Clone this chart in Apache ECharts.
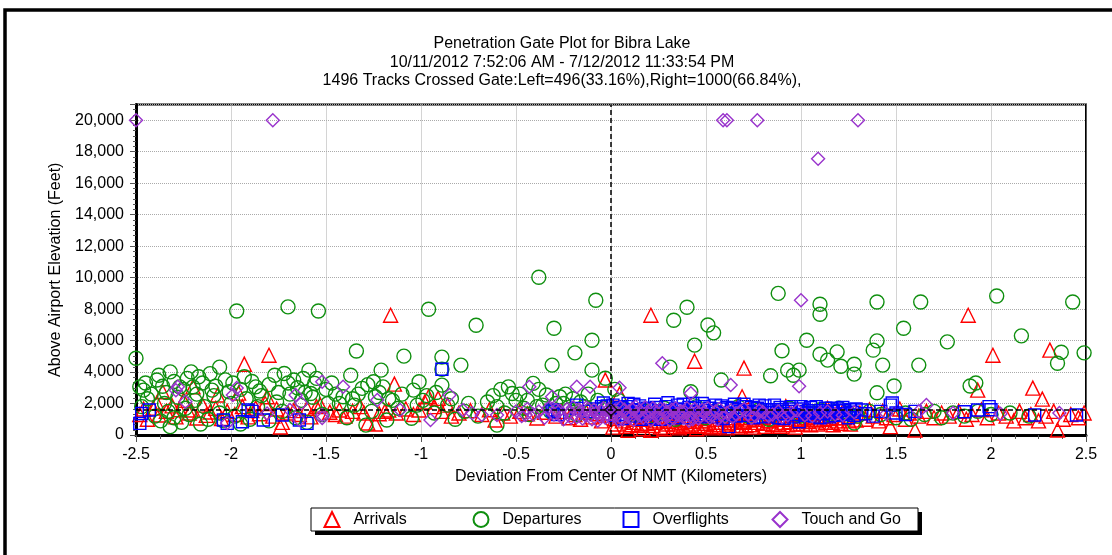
<!DOCTYPE html>
<html>
<head>
<meta charset="utf-8">
<script src="https://cdn.jsdelivr.net/npm/echarts@6/dist/echarts.min.js"></script>
<style>
html,body{margin:0;padding:0;background:#fff;}
#chart{width:1112px;height:555px;}
</style>
</head>
<body>
<div id="chart"></div>
<script>
const titleLines = [
  'Penetration Gate Plot for Bibra Lake',
  '10/11/2012 7:52:06 AM - 7/12/2012 11:33:54 PM',
  '1496 Tracks Crossed Gate:Left=496(33.16%),Right=1000(66.84%),'
];
const xAxisName = 'Deviation From Center Of NMT (Kilometers)';
const yAxisName = 'Above Airport Elevation (Feet)';
const seriesNames = ['Arrivals', 'Departures', 'Overflights', 'Touch and Go'];
const gateCenter = [0, 1600];

const arrivals = [
  [-1.16,7610],[-1.80,5070],[-1.93,4500],[-1.14,3230],[-0.03,3490],[0.21,7610],[0.44,4690],[0.70,4250],[0.69,2430],
  [1.88,7610],[2.01,5070],[2.31,5390],[2.22,2980],[2.27,2280],[1.93,2850],[2.35,320],[1.60,320],[1.47,530],
  [-2.48,1300],[-2.46,1650],[-2.44,1000],[-2.41,1710],[-2.39,2030],[-2.38,1270],[-2.36,2750],[-2.34,1500],[-2.31,1850],
  [-2.29,1150],[-2.27,1600],[-2.25,2200],[-2.22,1400],[-2.21,1590],[-2.20,3060],[-2.18,1080],[-2.15,1900],[-2.13,1250],
  [-2.11,1460],[-2.08,1700],[-2.07,2540],[-2.05,1050],[-2.02,1500],[-1.98,1300],[-1.96,2660],[-1.94,1800],[-1.91,1150],
  [-1.89,1550],[-1.87,1710],[-1.85,1350],[-1.82,2000],[-1.81,2430],[-1.78,1200],[-1.76,1650],[-1.74,510],[-1.73,800],
  [-1.70,1400],[-1.67,1550],[-1.64,1300],[-1.60,1700],[-1.58,1150],[-1.55,1800],[-1.53,1900],
  [-1.48,1450],[-1.45,1300],[-1.43,1590],[-1.40,1200],[-1.36,1500],[-1.32,1800],[-1.30,1400],[-1.28,760],[-1.24,700],
  [-1.22,1350],[-1.19,1500],[-1.17,1590],[-1.13,1400],[-1.08,1650],[-1.04,1300],[-1.01,1590],[-0.98,2100],[-0.96,2430],
  [-0.93,1800],[-0.91,2330],[-0.89,1500],[-0.86,1900],[-0.84,1200],[-0.80,1400],[-0.74,1550],[-0.68,1300],[-0.64,1600],
  [-0.61,950],[-0.57,1400],[-0.53,1200],[-0.48,1500],[-0.44,1350],[-0.39,1080],[-0.35,1450],
  [-0.29,1200],[-0.26,1500],[-0.22,1100],[-0.19,1300],[-0.16,1000],[-0.13,1450],[-0.10,1150],[-0.07,1350],[-0.05,900],
  [-0.02,1250],[0.045,2600],[0.02,1050],
  [0.03,700],[0.06,900],[0.08,550],[0.10,1100],[0.12,800],[0.14,600],[0.15,1000],[0.17,400],[0.19,750],[0.20,1200],
  [0.22,600],[0.24,900],[0.26,500],[0.27,1100],[0.29,700],[0.31,950],[0.33,550],[0.35,1250],[0.37,800],[0.38,600],
  [0.40,1000],[0.42,700],[0.44,1150],[0.46,600],[0.48,900],[0.50,750],[0.52,1200],[0.54,650],[0.56,1000],[0.58,800],
  [0.60,1300],[0.62,700],[0.64,950],[0.66,600],[0.68,1100],[0.70,800],[0.72,1400],[0.74,650],[0.76,1000],[0.78,1700],
  [0.80,750],[0.82,1200],[0.84,900],[0.86,1500],[0.88,700],[0.90,1100],[0.92,1800],[0.94,850],[0.96,1300],[0.98,700],
  [1.00,1000],[1.02,1600],[1.04,850],[1.06,1200],[1.08,900],[1.10,1400],[1.12,1000],[1.14,1700],[1.16,800],[1.18,1300],
  [1.20,1100],[1.22,1500],[1.25,900],[1.28,1200],
  [0.01,500],[0.05,1200],[0.09,300],[0.11,650],[0.13,1000],[0.16,700],[0.18,1000],[0.21,300],[0.23,800],[0.25,1050],
  [0.28,400],[0.30,850],[0.32,1100],[0.34,700],[0.36,450],[0.39,900],[0.41,550],[0.43,850],[0.45,400],[0.47,1050],
  [0.49,550],[0.51,900],[0.53,450],[0.55,800],[0.57,550],[0.59,1000],[0.61,450],[0.63,800],[0.65,1100],[0.67,500],
  [0.69,850],[0.71,600],[0.73,950],[0.75,500],[0.77,800],[0.79,1100],[0.81,550],[0.83,900],[0.85,650],[0.87,1000],
  [0.89,550],[0.91,800],[0.93,650],[0.95,1000],[0.97,500],[0.99,900],[1.01,700],[1.03,1100],[1.05,650],[1.07,1000],
  [1.09,700],[1.11,1150],[1.13,800],[1.15,1050],[1.17,650],[1.19,900],[1.21,750],[1.23,1100],[1.26,700],[1.29,950],
  [1.31,1400],[1.34,1000],[1.36,1600],[1.38,1200],[1.41,900],[1.43,1500],[1.45,1100],[1.49,1300],[1.52,1650],[1.55,1000],
  [1.57,1400],[1.62,1200],[1.66,1500],[1.70,1100],[1.74,1400],[1.78,1200],[1.83,1500],[1.87,1000],[1.90,1300],[1.95,1600],
  [1.98,1100],[2.04,1400],[2.08,1200],[2.12,900],[2.15,1500],[2.18,1100],[2.21,1300],[2.25,900],[2.29,1200],[2.33,1500],
  [2.38,1000],[2.42,1300],[2.46,1100],[2.49,1400]
];

const departures = [
  [-2.50,4880],[-1.97,7880],[-1.70,8140],[-1.54,7880],[-0.96,7990],[-0.71,6970],[-0.38,10020],[-0.08,8560],[-0.30,6780],
  [-0.10,6020],[-0.19,5220],[-0.31,4440],[-0.10,4120],[-1.34,5340],[-1.09,5010],[-0.79,4440],[-0.89,4950],[-0.89,4180],
  [-2.06,4310],
  [0.88,9000],[1.10,8310],[1.10,7670],[1.40,8450],[1.63,8450],[2.03,8830],[2.43,8450],[0.40,8120],[0.33,7290],[0.51,6990],
  [0.54,6490],[0.44,5710],[1.03,6020],[0.90,5350],[1.10,5130],[1.19,5280],[1.14,4760],[1.21,4370],[1.28,4500],[1.28,3870],
  [1.40,5980],[1.38,5390],[1.43,4440],[1.54,6780],[1.62,4440],[1.77,5920],[2.16,6300],[2.37,5260],[2.35,4560],[2.49,5220],
  [0.84,3760],[0.93,4120],[0.99,4120],[0.96,3800],[0.58,3490],[0.31,4310],[1.40,2680],[1.49,3110],[1.89,3110],[1.92,3300],
  [0.42,2750],[-0.03,3610],
  [-2.38,3800],[-2.32,4010],[-2.21,4010],[-2.17,3700],[-2.39,3490],[-2.46,2850],[-2.48,3060],[-2.27,3060],[-2.20,3060],
  [-2.10,2850],[-2.01,2750],[-1.93,3700],[-1.87,3060],[-1.77,3800],[-1.72,3910],[-1.67,3490],[-1.62,3590],[-1.59,4120],
  [-1.56,3280],[-1.58,2640],[-1.37,3800],[-1.41,2430],[-1.31,2960],[-1.25,3380],[-1.21,4120],[-1.20,3060],[-1.24,2430],
  [-1.04,2850],[-1.01,3380],[-0.89,3170],[-0.75,2010],[-0.54,3060],[-0.52,2640],[-0.41,3280],[-0.34,2540],[-0.27,2430],
  [-0.39,1800],[-0.60,1800],[-0.60,630],[-1.18,950],[-1.29,630],[-1.05,1060],[-2.32,530],
  [-2.45,3300],[-2.42,2600],[-2.36,3100],[-2.34,2700],[-2.30,3400],[-2.25,2900],[-2.23,3600],[-2.18,2600],[-2.15,3300],
  [-2.11,3900],[-2.08,3100],[-2.03,3500],[-1.99,3300],[-1.95,2900],[-1.89,3400],[-1.85,2800],[-1.80,3200],[-1.75,2700],
  [-1.70,3300],[-1.65,3000],[-1.61,2700],[-1.55,3600],[-1.50,2900],[-1.47,3300],[-1.43,2000],[-1.36,2300],[-1.28,3200],
  [-1.22,2700],[-1.17,2300],[-1.10,2600],[-0.99,2200],[-0.92,2700],[-0.84,2300],[-0.62,2500],[-0.58,2900],[-0.48,2600],
  [-0.44,2200],[-0.38,2900],[-0.29,2000],[-0.24,2600],[-0.20,2300],[-0.16,2100],[-0.12,2600],
  [-2.47,1800],[-2.44,2300],[-2.40,1200],[-2.37,900],[-2.35,2000],[-2.33,1500],[-2.30,1100],[-2.28,2400],[-2.26,800],
  [-2.24,1700],[-2.22,1300],[-2.19,2200],[-2.16,700],[-2.14,1800],[-2.12,1000],[-2.09,2500],[-2.06,1400],[-2.04,900],
  [-2.00,2000],[-1.98,1200],[-1.95,700],[-1.92,2300],[-1.90,1000],[-1.86,1800],[-1.84,2500],[-1.80,900],[-1.76,2100],
  [-1.73,1500],[-1.69,2600],[-1.66,1100],[-1.63,2200],[-1.60,800],[-1.57,2400],[-1.52,1300],[-1.49,2000],[-1.45,2600],
  [-1.39,1100],[-1.35,1900],[-1.33,2600],[-1.26,1500],[-1.15,2200],[-1.12,1700],[-1.02,1900],[-0.97,2500],[-0.93,1400],
  [-0.86,1900],[-0.82,1000],[-0.77,1500],[-0.70,1200],[-0.65,2100],[-0.56,1400],[-0.50,2200],[-0.46,1700],[-0.43,1300],
  [-0.36,1900],[-0.32,1500],[-0.25,2000],[-0.22,1600],[-0.18,1300],[-0.14,1800],[-0.11,1500],[-0.07,2200],[-0.04,1700],
  [0.02,2900],[0.04,2200],[0.08,1600],[0.12,1300],[0.18,1500],[0.23,1200],[0.28,1700],[0.34,1000],[0.39,1400],[0.45,1800],
  [0.50,1100],[0.55,1500],[0.61,1300],[0.67,1800],[0.72,1200],[0.78,1600],[0.83,1000],[0.88,1400],[0.94,1700],[1.00,1200],
  [1.05,1500],[1.10,1600],[1.15,1300],[1.20,1700],[1.25,1400],[1.28,760],[1.30,1200],[1.36,1500],[1.42,1300],[1.50,1100],
  [1.55,1400],[1.58,1000],[1.65,1300],[1.70,1500],[1.74,1100],[1.80,1400],[1.86,1200],[1.93,1500],[2.00,1300],[2.10,1400],
  [2.20,1200]
];

const overflights = [
  [-2.47,1370],[-2.43,1590],[-2.48,740],[-2.04,950],[-2.02,740],[-1.94,840],[-1.91,1590],[-1.89,1500],[-1.83,950],
  [-1.73,1270],[-1.64,950],[-1.60,740],[-0.89,4180],[-0.30,1480],[-0.18,1690],[-0.05,1800],[-0.18,1900],[-0.31,1590],
  [-0.28,1300],[-0.04,2030],[-0.12,1500],[-0.08,1650],[-0.02,1850],
  [0.01,1900],[0.03,1500],[0.05,1750],[0.07,1300],[0.09,2000],[0.11,1600],[0.13,1200],[0.15,1850],[0.17,1450],[0.19,1700],
  [0.21,1100],[0.23,1950],[0.25,1550],[0.27,1300],[0.29,1800],[0.31,1450],[0.33,1100],[0.35,1900],[0.37,1600],[0.39,1300],
  [0.41,1750],[0.43,2000],[0.45,1450],[0.47,1150],[0.49,1800],[0.51,1550],[0.53,1300],[0.55,1900],[0.57,1650],[0.59,1050],
  [0.61,1750],[0.62,530],[0.63,1400],[0.65,1950],[0.67,1600],[0.69,1250],[0.71,1800],[0.73,1500],[0.75,1100],[0.77,1700],
  [0.79,1400],[0.81,1850],[0.83,1200],[0.85,1600],[0.87,1350],[0.89,1750],[0.91,1050],[0.93,1500],[0.95,1800],[0.97,1300],
  [0.99,840],[1.01,1650],[1.03,1400],[1.05,1750],[1.07,1200],[1.09,1550],[1.11,1350],[1.13,1700],[1.15,1150],[1.17,1500],
  [1.19,1650],[1.21,1300],[1.23,1550],[1.25,1100],[1.27,1450],[1.29,1650],
  [0.02,1250],[0.04,1650],[0.06,1050],[0.08,1800],[0.10,1400],[0.12,1950],[0.14,1550],[0.16,1000],[0.18,1300],[0.20,1650],
  [0.22,1400],[0.24,1750],[0.26,1000],[0.28,1550],[0.30,2050],[0.32,1250],[0.34,1650],[0.36,1400],[0.38,1950],[0.40,1100],
  [0.42,1500],[0.44,1700],[0.46,1300],[0.48,2000],[0.50,1200],[0.52,1700],[0.54,1450],[0.56,1150],[0.58,1850],[0.60,1350],
  [0.64,1700],[0.66,1200],[0.68,1500],[0.70,1950],[0.72,1250],[0.74,1750],[0.76,1450],[0.78,1900],[0.80,1150],[0.82,1600],
  [0.84,1450],[0.86,1900],[0.88,1100],[0.90,1600],[0.92,1350],[0.94,1650],[0.96,1150],[0.98,1500],[1.00,1800],[1.02,1250],
  [1.04,1550],[1.06,1400],[1.08,1800],[1.10,1100],[1.12,1550],[1.14,1400],[1.16,1700],[1.18,1250],[1.20,1550],[1.22,1750],
  [1.24,1350],[1.26,1600],[1.28,1250],
  [1.32,1590],[1.34,1350],[1.38,1200],[1.42,1500],[1.47,1900],[1.48,2030],[1.50,1400],[1.55,1300],[1.60,1500],[1.86,1480],
  [1.93,1590],[1.99,1800],[2.00,1600],[2.23,1270],[2.45,1270]
];

const touchAndGo = [
  [-2.50,20000],[-1.78,20000],[0.59,20000],[0.61,20000],[0.77,20000],[1.30,20000],[1.09,17560],[1.00,8560],[0.27,4560],
  [0.63,3170],[0.99,3100],[0.045,3000],[0.42,2660],[2.36,1400],[1.66,1900],
  [-2.28,3060],[-1.97,2980],[-1.66,2540],[-1.52,3380],[-1.41,3060],[-1.23,2220],[-0.85,2540],[-0.43,3060],[-0.31,2430],
  [-0.18,3060],[-0.11,3060],[-0.73,1390],[-0.68,1270],[-0.60,1270],[-0.95,950],[-1.52,1080],[-1.64,950],[-2.02,760],
  [-1.69,1590],[-2.29,2850],[-2.24,2110],[-1.99,2540],[-1.63,2010],[-1.52,1270],[-1.81,1370],[-1.11,1590],[-0.78,1590],
  [-0.45,1270],
  [-0.50,1500],[-0.47,1200],[-0.44,1650],[-0.41,1300],[-0.38,1500],[-0.35,1100],[-0.33,1700],[-0.30,1300],[-0.27,1550],
  [-0.25,1000],[-0.22,1400],[-0.20,1750],[-0.18,1150],[-0.16,1500],[-0.14,1300],[-0.12,1650],[-0.10,1000],[-0.08,1400],
  [-0.06,1200],[-0.04,1700],[-0.02,1350],[0.00,1050],[0.02,1550],[0.03,1250],[0.05,1750],[0.06,1000],[0.08,1400],
  [0.09,1200],[0.11,1650],[0.12,950],[0.14,1350],[0.15,1550],[0.17,1100],[0.18,1750],[0.20,1300],[0.21,950],[0.23,1500],
  [0.24,1200],[0.26,1650],[0.27,1000],[0.29,1400],[0.30,1200],[0.32,1600],[0.33,1050],[0.35,1350],[0.37,1500],[0.38,1150],
  [0.40,1700],[0.42,1250],[0.43,1000],[0.45,1450],[0.47,1200],[0.48,1600],[0.50,1300],[0.52,1100],[0.55,1500],[0.58,1250],
  [-0.29,1600],[-0.26,1200],[-0.23,1650],[-0.21,1100],[-0.17,1600],[-0.15,1050],[-0.13,1750],[-0.11,1300],[-0.09,1600],
  [-0.07,900],[-0.05,1500],[-0.03,1100],[-0.01,1650],[0.01,1300],[0.04,950],[0.07,1600],[0.10,1100],[0.13,1800],[0.16,1250],
  [0.19,1450],[0.22,1700],[0.25,1100],[0.28,1600],[0.31,950],[0.34,1700],[0.36,1250],[0.39,1450],[0.41,900],[0.44,1650],
  [0.46,1050],[0.49,1400],[0.51,1700],[0.53,1250],[0.56,1000],[0.57,1650],[0.60,1150],[0.63,1550],[0.66,1300],[0.70,1650],
  [0.74,1100],[0.78,1550],[0.83,1200],[0.88,1500],[0.93,1250],[0.98,1550],[1.06,1200],[1.14,1500],[1.22,1250],
  [0.61,1400],[0.64,1150],[0.68,1500],[0.72,1300],[0.76,1200],[0.80,1450],[0.85,1300],[0.90,1150],[0.95,1400],[1.02,1250],
  [1.10,1400],[1.18,1300],[1.28,1450],[1.45,1350],[1.62,1500],[1.80,1400],[2.05,1350]
];

const FONT = '"Liberation Sans", Arial, sans-serif';
const colors = ['#ff0000', '#0f8f0f', '#0000ff', '#9933cc'];
const symbols = ['triangle', 'circle', 'rect', 'diamond'];
const symbolSizes = [14, 14, 12, 13];
const datasets = [arrivals, departures, overflights, touchAndGo];

const chart = echarts.init(document.getElementById('chart'), null, {renderer: 'canvas'});

const series = seriesNames.map((n, i) => ({
  name: n,
  type: 'scatter',
  data: datasets[i],
  symbol: symbols[i],
  symbolSize: symbolSizes[i],
  symbolKeepAspect: true,
  itemStyle: {color: 'rgba(0,0,0,0)', borderColor: colors[i], borderWidth: 1.4, opacity: 1},
  emphasis: {disabled: true},
  z: 2 + i * 0.01
}));

series.push({
  name: 'gate',
  type: 'scatter',
  data: [gateCenter],
  symbol: 'diamond',
  symbolSize: 12,
  itemStyle: {color: 'rgba(0,0,0,0)', borderColor: '#000', borderWidth: 1.5},
  z: 3,
  silent: true,
  markLine: {
    silent: true,
    symbol: ['none', 'none'],
    label: {show: false},
    lineStyle: {color: '#000', type: [5, 3], width: 1.5},
    data: [{xAxis: gateCenter[0]}, {yAxis: gateCenter[1]}]
  }
});

const iconCenters = [331, 480, 630, 779];
const legends = seriesNames.map((n, i) => ({
  data: [n],
  left: iconCenters[i] - 7.5,
  top: 511,
  orient: 'horizontal',
  padding: 0,
  itemWidth: 15,
  itemHeight: 15,
  selectedMode: false,
  formatter: '  {name}',
  textStyle: {fontFamily: FONT, fontSize: 16, color: '#000'}
}));

const option = {
  animation: false,
  backgroundColor: '#fff',
  grid: {left: 136, right: 26, top: 104.5, bottom: 120, show: true, borderColor: '#000', borderWidth: 2, backgroundColor: 'transparent'},
  legend: legends,
  xAxis: {
    type: 'value', min: -2.5, max: 2.5, interval: 0.5,
    name: xAxisName, nameLocation: 'middle', nameGap: 34,
    nameTextStyle: {fontFamily: FONT, fontSize: 16, color: '#000'},
    axisLine: {show: true, onZero: false, lineStyle: {color: '#000', width: 3}},
    axisTick: {show: true, inside: false, length: 7, lineStyle: {color: '#555'}},
    minorTick: {show: true, splitNumber: 4, length: 4, lineStyle: {color: '#555'}},
    axisLabel: {fontFamily: FONT, fontSize: 16, color: '#000', margin: 12},
    splitLine: {show: true, lineStyle: {color: '#aaa', type: 'dotted', width: 1}}
  },
  yAxis: {
    type: 'value', min: 0, max: 21000, interval: 2000,
    name: yAxisName, nameLocation: 'middle', nameGap: 72,
    nameTextStyle: {fontFamily: FONT, fontSize: 16, color: '#000'},
    axisLine: {show: true, onZero: false, lineStyle: {color: '#000', width: 3}},
    axisTick: {show: true, inside: false, length: 6, lineStyle: {color: '#555'}},
    minorTick: {show: true, splitNumber: 6, length: 3, lineStyle: {color: '#555'}},
    axisLabel: {fontFamily: FONT, fontSize: 16, color: '#000', margin: 12, showMaxLabel: false,
      formatter: v => v.toLocaleString('en-US')},
    splitLine: {show: true, lineStyle: {color: '#aaa', type: 'dotted', width: 1}}
  },
  graphic: [
    {type: 'rect', shape: {x: 5, y: 10, width: 1300, height: 1000}, style: {fill: 'none', stroke: '#000', lineWidth: 3.5}, silent: true, z: 0},
    {type: 'rect', shape: {x: 315, y: 512, width: 607, height: 23}, style: {fill: '#000'}, silent: true, z: 0},
    {type: 'rect', shape: {x: 311, y: 508, width: 607, height: 23}, style: {fill: '#fff', stroke: '#000', lineWidth: 1}, silent: true, z: 1},
    ...titleLines.map((t, i) => ({
      type: 'text', x: 562, y: 44 + i * 18.5, silent: true, z: 5,
      style: {text: t, fill: '#000', font: '16px ' + FONT, textAlign: 'center', textVerticalAlign: 'middle'}
    }))
  ],
  series: series
};
chart.setOption(option);
</script>
</body>
</html>
